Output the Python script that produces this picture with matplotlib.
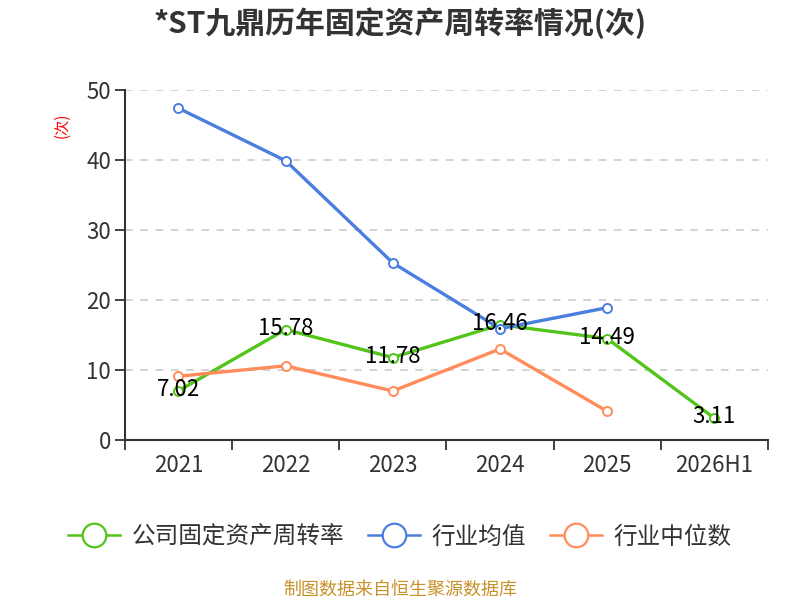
import matplotlib.pyplot as plt
from matplotlib.lines import Line2D

plt.rcParams['font.family'] = ['Noto Sans CJK SC', 'DejaVu Sans']

years = ['2021', '2022', '2023', '2024', '2025', '2026H1']
company = [7.02, 15.78, 11.78, 16.46, 14.49, 3.11]
ind_mean = [47.4, 39.9, 25.3, 15.9, 18.9]
ind_median = [9.1, 10.6, 7.0, 13.0, 4.1]

green = '#52c41a'
blue = '#4a7fe0'
orange = '#ff8c5a'

fig = plt.figure(figsize=(8, 6), dpi=100)
ax = fig.add_axes([0.156, 0.2667, 0.804, 0.5833])

x = list(range(len(years)))
ax.plot(x, company, color=green, lw=2.4, marker='o', ms=6.5, mfc='white', mew=1.4, zorder=3)
ax.plot(x[:5], ind_mean, color=blue, lw=2.4, marker='o', ms=6.5, mfc='white', mew=1.4, zorder=3)
ax.plot(x[:5], ind_median, color=orange, lw=2.4, marker='o', ms=6.5, mfc='white', mew=1.4, zorder=3)

for i, v in enumerate(company):
    ax.text(i, v + 0.2, f'{v:.2f}', ha='center', va='center', fontsize=16, color='black', zorder=4)

ax.set_xlim(-0.5, 5.5)
ax.set_ylim(0, 50)
ax.set_yticks([0, 10, 20, 30, 40, 50])
ax.set_xticks(x)
ax.set_xticklabels(years)
ax.set_xticks([i - 0.5 for i in range(7)], minor=True)
ax.tick_params(axis='x', which='major', length=0, pad=10, labelsize=16, labelcolor='#333333')
ax.tick_params(axis='x', which='minor', length=7, width=1.3, color='#333333')
ax.tick_params(axis='y', length=7, width=1.3, color='#333333', pad=3, labelsize=16, labelcolor='#333333')

ax.grid(axis='y', color='#c8c8c8', linestyle=(0, (5, 5)), lw=1.1)
ax.set_axisbelow(True)
for s in ['top', 'right']:
    ax.spines[s].set_visible(False)
for s in ['left', 'bottom']:
    ax.spines[s].set_color('#333333')
    ax.spines[s].set_linewidth(1.5)

fig.text(0.078, 0.792, '(次)', rotation=90, color='red', fontsize=11, ha='center', va='center')
fig.text(0.5, 0.962, '*ST九鼎历年固定资产周转率情况(次)', ha='center', va='center',
         fontsize=21.5, fontweight='bold', color='#333333')

handles = [Line2D([], [], color=c, lw=1.8, marker='o', ms=17, mfc='white', mew=1.6)
           for c in [green, blue, orange]]
fig.legend(handles, ['公司固定资产周转率', '行业均值', '行业中位数'], loc='center',
           bbox_to_anchor=(0.5, 0.105), ncol=3, frameon=False, fontsize=17,
           handlelength=2.2, handletextpad=0.5, columnspacing=1.0, labelcolor='#333333')

fig.text(0.5, 0.018, '制图数据来自恒生聚源数据库', ha='center', va='center', fontsize=13, color='#c8922a')

fig.savefig('out.png', dpi=100)
